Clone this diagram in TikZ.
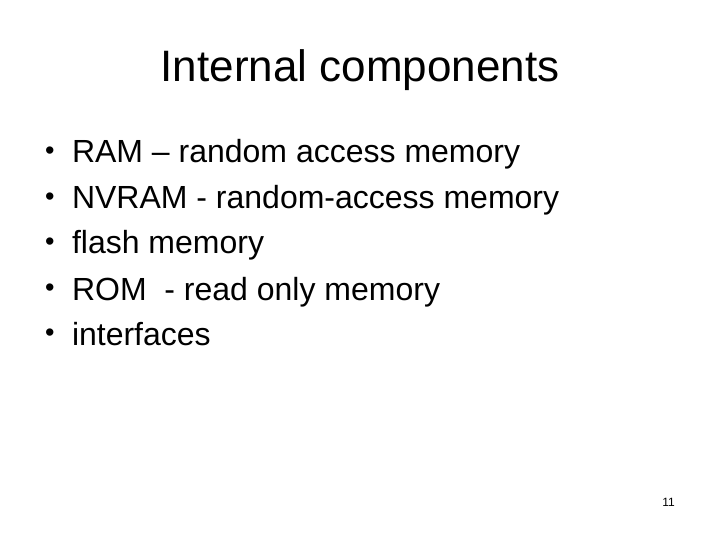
\documentclass[tikz,border=0pt]{standalone}
\usepackage{fontspec}
\setmainfont{Liberation Sans}
\begin{document}
\begin{tikzpicture}[x=1pt,y=-1pt,
  txt/.style={anchor=base west,inner sep=0pt,outer sep=0pt,font=\fontsize{32}{38}\selectfont},
  bul/.style={anchor=base west,inner sep=0pt,outer sep=0pt,font=\fontsize{27}{32}\selectfont},
  ttl/.style={anchor=base,inner sep=0pt,font=\fontsize{44}{52}\selectfont},
  pg/.style={anchor=base east,inner sep=0pt,font=\fontsize{12}{14}\selectfont}]
\useasboundingbox[fill=white] (0,0) rectangle (720,540);
\node[ttl] (title) at (360,82) {Internal components};
\node[bul] (b1) at (45,159.5) {•};
\node[txt] (t1) at (72,163) {RAM – random access memory};
\node[bul] (b2) at (45,205.5) {•};
\node[txt] (t2) at (72,209) {NVRAM - random-access memory};
\node[bul] (b3) at (45,250.5) {•};
\node[txt] (t3) at (72,254) {flash memory};
\node[bul] (b4) at (45,296.5) {•};
\node[txt] (t4) at (72,300) {ROM~ - read only memory};
\node[bul] (b5) at (45,341.5) {•};
\node[txt] (t5) at (72,345) {interfaces};
\node[pg] (page) at (675,506) {11};
\end{tikzpicture}
\end{document}
